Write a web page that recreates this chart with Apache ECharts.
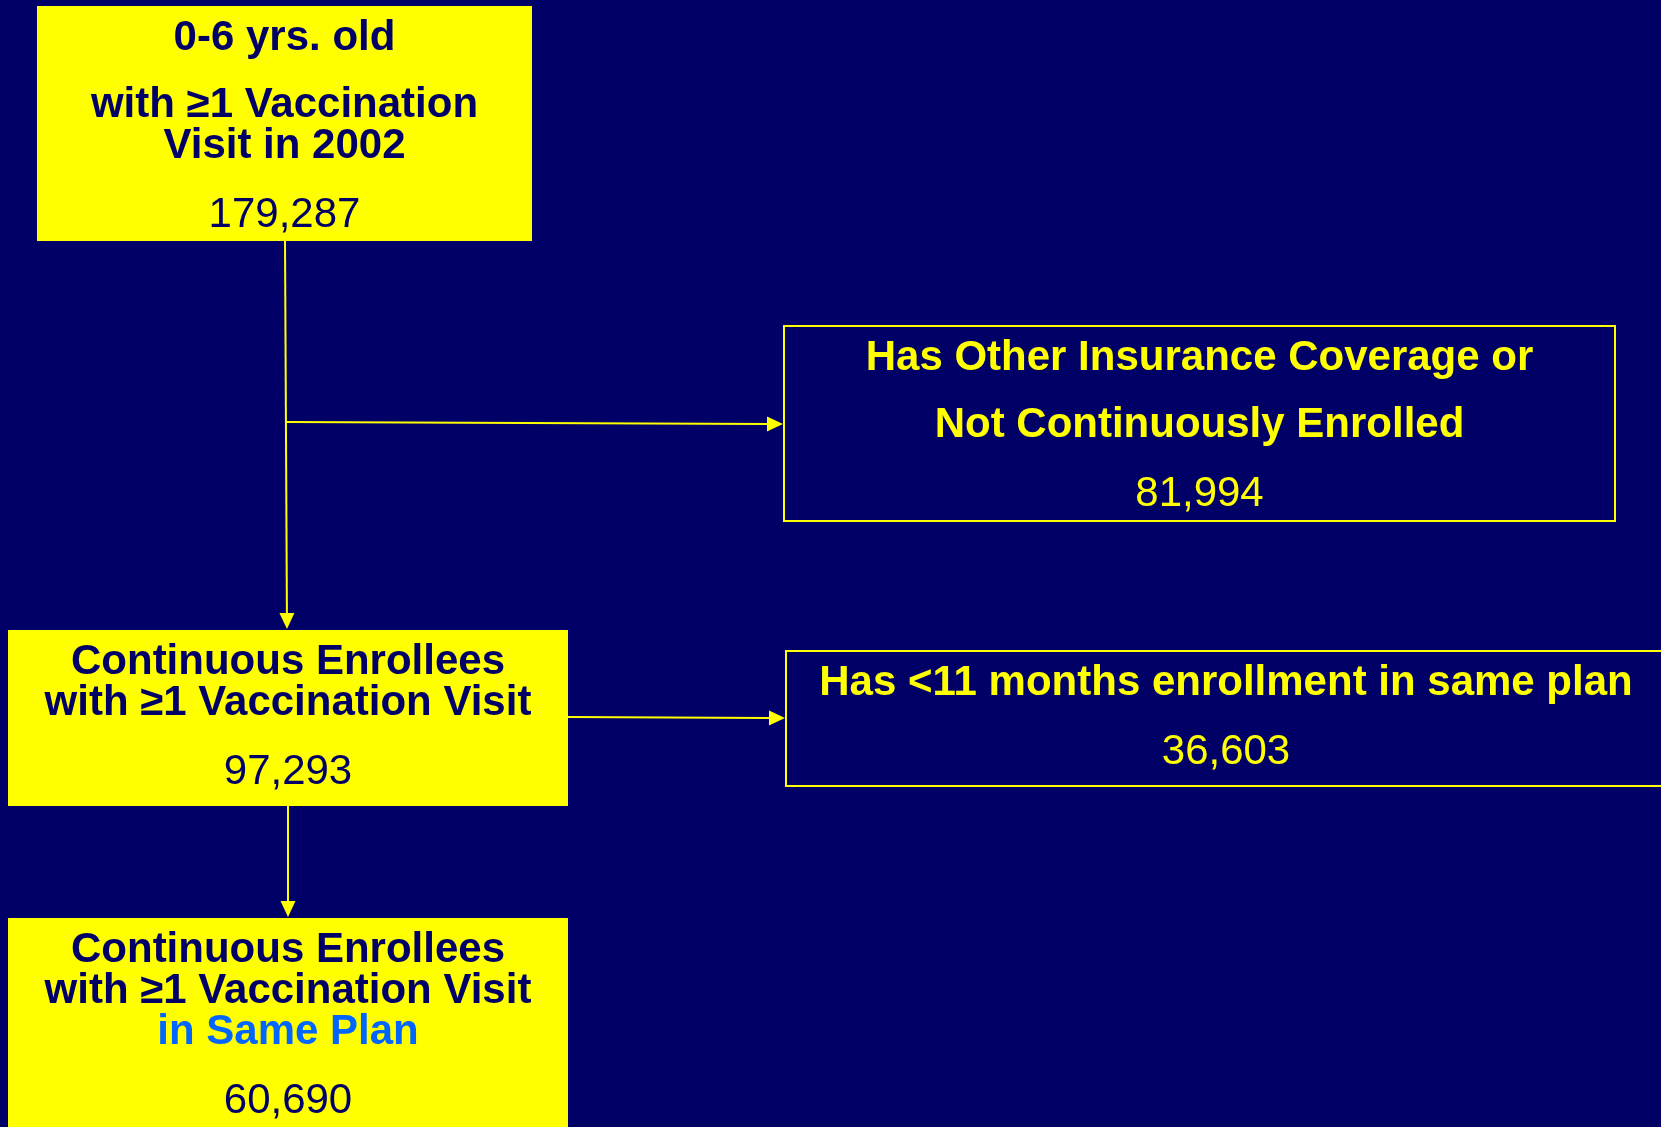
<!DOCTYPE html>
<html>
<head>
<meta charset="utf-8">
<title>Vaccination visit flow</title>
<script src="https://cdn.jsdelivr.net/npm/echarts@6/dist/echarts.min.js"></script>
<style>
  html, body { margin: 0; padding: 0; background: #000066; }
  #chart { width: 1661px; height: 1127px; }
</style>
</head>
<body>
<div id="chart"></div>
<script>
// Box text: each box has paragraphs of title lines, then a count
const boxTitles = [
  [['0-6 yrs. old'], ['with ≥1 Vaccination', 'Visit in 2002']],
  [['Has Other Insurance Coverage or'], ['Not Continuously Enrolled']],
  [['Continuous Enrollees', 'with ≥1 Vaccination Visit']],
  [['Has <11 months enrollment in same plan']],
  [['Continuous Enrollees', 'with ≥1 Vaccination Visit', 'in Same Plan']]
];
const boxCounts = [179287, 81994, 97293, 36603, 60690];
const highlightLine = 'in Same Plan';

// Layout (page pixels): [left, top, right, bottom]
const boxRects = [
  [37, 6, 532, 241],
  [784, 326, 1615, 521],
  [8, 630, 568, 806],
  [786, 651, 1666, 786],
  [8, 918, 568, 1140]
];
const boxFilled = [true, false, true, false, true];

// Connectors: [x0, y0, x1, y1], arrowhead at the end
const arrowPaths = [
  [285, 241, 287, 629],
  [286, 422, 783, 424],
  [288, 806, 288, 917],
  [568, 717, 785, 718]
];

const NAVY = '#000066';
const YELLOW = '#ffff00';
const BLUE = '#0066ff';
const FONT = '"Liberation Sans", Arial, Helvetica, sans-serif';

function renderBox(params, api) {
  const i = params.dataIndex;
  const p0 = api.coord([api.value(0), api.value(1)]);
  const p1 = api.coord([api.value(2), api.value(3)]);
  const filled = boxFilled[i];
  const children = [];

  children.push({
    type: 'rect',
    shape: { x: p0[0], y: p0[1], width: p1[0] - p0[0], height: p1[1] - p0[1] },
    style: filled
      ? { fill: YELLOW, stroke: null }
      : { fill: 'none', stroke: YELLOW, lineWidth: 2 }
  });

  const cx = (p0[0] + p1[0]) / 2;
  const textColor = filled ? NAVY : YELLOW;
  let y = p0[1] + 32;
  boxTitles[i].forEach(function(para, pi) {
    if (pi > 0) y += 67;
    para.forEach(function(line, li) {
      if (li > 0) y += 41;
      children.push({
        type: 'text',
        style: {
          text: line,
          x: cx,
          y: y,
          align: 'center',
          verticalAlign: 'middle',
          fill: line === highlightLine ? BLUE : textColor,
          font: 'bold 42px ' + FONT
        }
      });
    });
  });
  y += 69;
  children.push({
    type: 'text',
    style: {
      text: boxCounts[i].toLocaleString('en-US'),
      x: cx,
      y: y,
      align: 'center',
      verticalAlign: 'middle',
      fill: textColor,
      font: 'normal 42px ' + FONT
    }
  });

  return { type: 'group', children: children };
}

function renderArrow(params, api) {
  const a = api.coord([api.value(0), api.value(1)]);
  const b = api.coord([api.value(2), api.value(3)]);
  const dx = b[0] - a[0], dy = b[1] - a[1];
  const len = Math.sqrt(dx * dx + dy * dy);
  const ux = dx / len, uy = dy / len;
  const headLen = 16, headHalf = 7.5;
  const base = [b[0] - ux * headLen, b[1] - uy * headLen];
  return {
    type: 'group',
    children: [
      {
        type: 'line',
        shape: { x1: a[0], y1: a[1], x2: base[0], y2: base[1] },
        style: { stroke: YELLOW, lineWidth: 2 }
      },
      {
        type: 'polygon',
        shape: {
          points: [
            b,
            [base[0] - uy * headHalf, base[1] + ux * headHalf],
            [base[0] + uy * headHalf, base[1] - ux * headHalf]
          ]
        },
        style: { fill: YELLOW }
      }
    ]
  };
}

const chart = echarts.init(document.getElementById('chart'), null, { renderer: 'canvas' });

const option = {
  backgroundColor: NAVY,
  animation: false,
  grid: { left: 0, right: 0, top: 0, bottom: 0 },
  xAxis: { type: 'value', min: 0, max: 1661, show: false },
  yAxis: { type: 'value', min: 0, max: 1127, inverse: true, show: false },
  series: [
    {
      type: 'custom',
      name: 'connectors',
      renderItem: renderArrow,
      data: arrowPaths,
      clip: false,
      silent: true
    },
    {
      type: 'custom',
      name: 'boxes',
      renderItem: renderBox,
      data: boxRects,
      clip: false,
      silent: true
    }
  ]
};

chart.setOption(option);
</script>
</body>
</html>
